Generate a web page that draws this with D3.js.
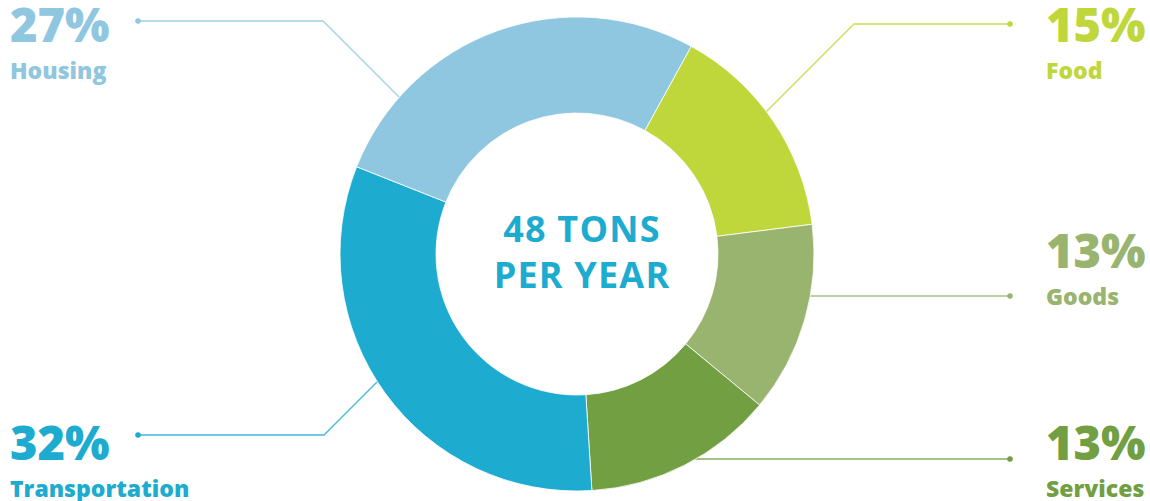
<!DOCTYPE html>
<html>
<head>
<meta charset="utf-8">
<script src="https://cdn.jsdelivr.net/npm/d3@7"></script>
<style>
  html, body { margin: 0; padding: 0; background: #fff; }
  #chart { width: 1150px; height: 501px; }
</style>
</head>
<body>
<div id="chart"></div>
<script>
// footprint breakdown, clockwise from the Food slice
var categories = ["Food", "Goods", "Services", "Transportation", "Housing"];
var shares = [15, 13, 13, 32, 27];
var colors = ["#bfd73a", "#98b46f", "#719f41", "#1eabd0", "#8fc6e0"];
var centerLines = ["48 TONS", "PER YEAR"];

(function () {
  var W = 1150, H = 501;
  var cx = 577, cy = 254, outerR = 237, innerR = 141;
  var startAngle = 28.8 * Math.PI / 180;

  var svg = d3.select("#chart").append("svg")
    .attr("width", W).attr("height", H);

  var pie = d3.pie().sort(null).value(function (d) { return d; })
    .startAngle(startAngle).endAngle(startAngle + 2 * Math.PI);
  var arcs = pie(shares);
  var arc = d3.arc().innerRadius(innerR).outerRadius(outerR);

  // label placement: side, dot y, elbow x (null = straight line), baseline of the % text
  var labelLayout = {
    Food:           { side: "right", dotY: 24,  elbowX: 854,  pctY: 42 },
    Goods:          { side: "right", dotY: 296, elbowX: null, pctY: 268 },
    Services:       { side: "right", dotY: 459, elbowX: null, pctY: 460 },
    Transportation: { side: "left",  dotY: 435, elbowX: 324,  pctY: 460 },
    Housing:        { side: "left",  dotY: 21,  elbowX: 323,  pctY: 42 }
  };
  var dotLeftX = 138, dotRightX = 1010;
  var textLeftX = 10, textRightX = 1046;

  // leader lines go under the ring, so they run into the slice edge
  var lines = svg.append("g");
  categories.forEach(function (c, i) {
    var L = labelLayout[c];
    var dx = L.side === "left" ? dotLeftX : dotRightX;
    var pts = [[dx, L.dotY]];
    var dirX = L.side === "left" ? 1 : -1;
    if (L.elbowX != null) {
      pts.push([L.elbowX, L.dotY]);
      var dirY = L.dotY < cy ? 1 : -1;
      // walk 45 degrees from the elbow until inside the ring
      var t = 0, px = L.elbowX, py = L.dotY;
      while (t < 400) {
        px = L.elbowX + dirX * t; py = L.dotY + dirY * t;
        if (Math.hypot(px - cx, py - cy) < outerR - 8) break;
        t += 1;
      }
      pts.push([px, py]);
    } else {
      var hx = Math.sqrt(Math.max(0, (outerR - 8) * (outerR - 8) - (L.dotY - cy) * (L.dotY - cy)));
      pts.push([L.side === "left" ? cx - hx : cx + hx, L.dotY]);
    }
    lines.append("path")
      .attr("d", d3.line()(pts))
      .attr("fill", "none").attr("stroke", colors[i]).attr("stroke-opacity", 0.85)
      .attr("stroke-width", 1.3);
    lines.append("circle").attr("cx", dx).attr("cy", L.dotY).attr("r", 2.8).attr("fill", colors[i]);
  });

  var ring = svg.append("g").attr("transform", "translate(" + cx + "," + cy + ")");
  ring.selectAll("path").data(arcs).enter().append("path")
    .attr("d", arc)
    .attr("fill", function (d, i) { return colors[i]; })
    .attr("stroke", "#fff").attr("stroke-width", 0.8);

  ring.selectAll("text.center").data(centerLines).enter().append("text")
    .attr("class", "center")
    .attr("x", 5)
    .attr("y", function (d, i) { return -12 + i * 46; })
    .attr("text-anchor", "middle")
    .attr("font-family", "Open Sans, sans-serif")
    .attr("font-weight", 700)
    .attr("font-size", "36px")
    .attr("letter-spacing", "1.2px")
    .attr("fill", "#1eabd0")
    .text(function (d) { return d; });

  var labels = svg.append("g").attr("font-family", "Open Sans, sans-serif").attr("font-weight", 800);
  categories.forEach(function (c, i) {
    var L = labelLayout[c];
    var x = L.side === "left" ? textLeftX : textRightX;
    labels.append("text").attr("x", x).attr("y", L.pctY)
      .attr("font-size", "47px").attr("fill", colors[i])
      .text(shares[i] + "%");
    labels.append("text").attr("x", x).attr("y", L.pctY + 37)
      .attr("font-size", "23px").attr("fill", colors[i])
      .text(c);
  });
})();
</script>
</body>
</html>
